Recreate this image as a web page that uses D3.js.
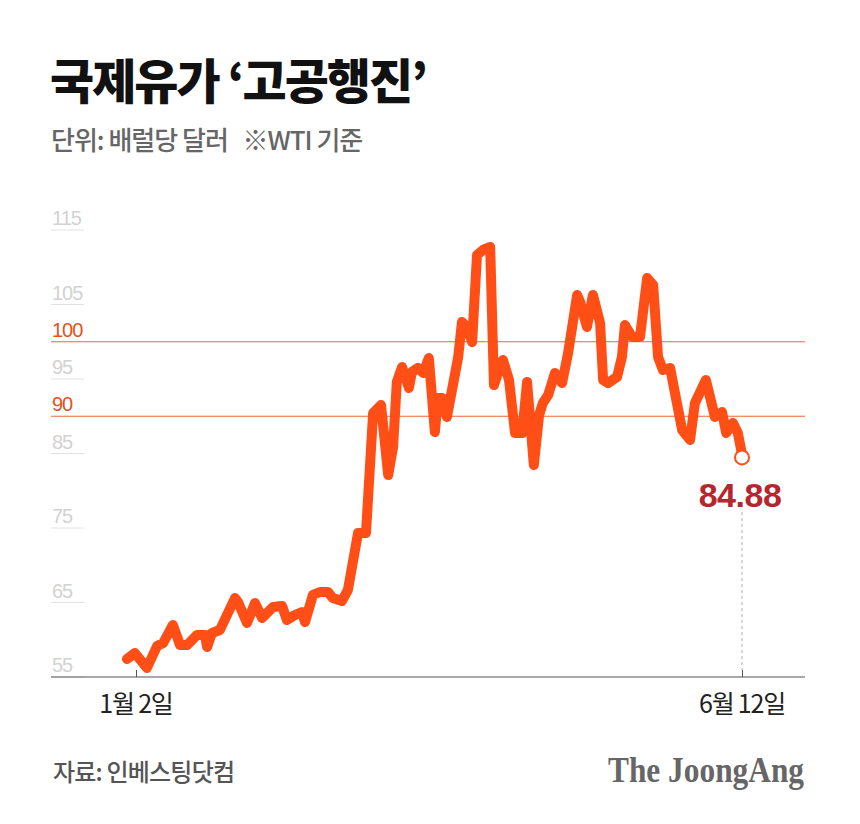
<!DOCTYPE html>
<html><head><meta charset="utf-8">
<script src="https://cdn.jsdelivr.net/npm/d3@7"></script>
<style>
html,body{margin:0;padding:0;background:#fff;}
svg{display:block;}
</style></head>
<body>
<svg id="chart" width="860" height="824"></svg>
<script>
// Days since Jan 2 (x) and WTI price in $/bbl (y)
const days = [-2.4,-0.3,2.9,5.6,7.2,9.8,11.7,13.6,16.2,18.3,18.9,20.2,22.3,26.3,27.1,29.5,31.6,33.5,36.4,38.8,40.1,42.2,44.1,44.9,47.0,48.9,51.0,52.3,54.7,56.3,59.0,61.1,63.0,65.1,67.0,68.3,69.3,70.7,72.5,73.3,74.9,76.3,77.8,79.4,80.2,81.3,82.6,85.6,86.6,87.9,89.3,90.6,92.2,94.1,95.1,96.2,97.5,99.1,100.7,102.6,103.9,105.7,107.1,108.1,109.5,111.3,113.2,114.8,117.2,118.0,119.8,121.4,123.3,124.1,125.4,127.8,129.1,129.9,131.8,133.9,135.8,137.4,138.7,140.0,141.9,145.1,147.2,148.5,151.4,153.8,155.7,156.8,158.6,159.9,161];
const prices = [57.42,58.22,56.21,59.16,59.56,61.98,59.30,59.30,60.64,60.64,59.03,60.91,61.31,65.60,65.07,62.25,64.93,62.92,64.40,64.53,62.65,63.32,63.72,62.38,66.01,66.41,66.41,65.60,65.20,66.68,74.33,74.33,90.44,91.51,82.11,85.87,94.60,96.61,93.79,95.94,96.48,95.81,97.82,87.89,92.45,92.45,89.90,97.95,102.65,101.98,99.97,111.64,112.32,112.72,94.19,95.81,97.55,94.87,87.75,87.75,94.60,83.46,90.17,91.78,92.85,95.81,94.46,98.49,106.28,105.34,101.98,106.28,102.52,94.87,94.46,95.27,97.95,102.25,100.64,100.64,108.56,107.62,97.95,96.21,96.48,88.15,86.81,91.78,94.87,89.90,90.57,87.75,89.09,87.75,84.88];
const yTicks = [55,65,75,85,95,105,115];
const refLines = [90,100];
const xTickDays = [0,161];
const xTickLabels = ["1월 2일","6월 12일"];
const title = "국제유가 ‘고공행진’";
const subtitle = "단위: 배럴당 달러   ※WTI 기준";
const source = "자료: 인베스팅닷컴";
const brand = "The JoongAng";
const lastLabel = "84.88";

const svg = d3.select("#chart");
const left = 51, right = 805, axisY = 677;
const x = d3.scaleLinear().domain([0,161]).range([136,742]);
const y = d3.scaleLinear().domain([55,115]).range([axisY,230]);

const KR = "'Noto Sans CJK KR','Noto Sans',sans-serif";
const LAT = "'Liberation Sans',Arial,sans-serif";

// Title & subtitle
svg.append("text").attr("x",50).attr("y",99).text(title)
  .attr("font-family",KR).attr("font-weight",900).attr("font-size",48)
  .attr("letter-spacing",-2).attr("fill","#111");
svg.append("text").attr("x",51).attr("y",150).text(subtitle)
  .attr("font-family",KR).attr("font-weight",500).attr("font-size",26)
  .attr("letter-spacing",-1).attr("fill","#666").attr("xml:space","preserve");

// y tick labels with short underlines
const g = svg.append("g");
yTicks.forEach(t => {
  g.append("line").attr("x1",left).attr("x2",84).attr("y1",y(t)).attr("y2",y(t))
    .attr("stroke","#e2e2e2").attr("stroke-width",1);
  g.append("text").attr("x",52).attr("y",y(t)-5).text(t)
    .attr("font-family",LAT).attr("font-size",20).attr("fill","#d2d2d2").attr("letter-spacing",-1);
});
refLines.forEach(t => {
  g.append("line").attr("x1",left).attr("x2",right).attr("y1",y(t)).attr("y2",y(t))
    .attr("stroke","#e8693c").attr("stroke-width",1.2);
  g.append("text").attr("x",52).attr("y",y(t)-5).text(t)
    .attr("font-family",LAT).attr("font-size",20).attr("fill","#e0541e").attr("letter-spacing",-1);
});

// x axis
const xAxis = d3.axisBottom(x).tickValues(xTickDays).tickSize(-7).tickFormat(() => "");
const ax = svg.append("g").attr("transform",`translate(0,${axisY})`).call(xAxis);
ax.select(".domain").remove();
ax.selectAll(".tick line").attr("stroke","#555");
svg.append("line").attr("x1",left).attr("x2",right).attr("y1",axisY).attr("y2",axisY)
  .attr("stroke","#555").attr("stroke-width",1.2);
xTickDays.forEach((d,i) => {
  svg.append("text").attr("x",x(d)).attr("y",713).attr("text-anchor","middle").text(xTickLabels[i])
    .attr("font-family",KR).attr("font-size",25).attr("letter-spacing",-1.2).attr("fill","#222");
});

// dashed drop line for last point
const lastI = prices.length-1;
svg.append("line").attr("x1",x(days[lastI])).attr("x2",x(days[lastI]))
  .attr("y1",512).attr("y2",axisY-7).attr("stroke","#aaa").attr("stroke-width",1).attr("stroke-dasharray","3,3");

// line
const line = d3.line().x((d,i)=>x(days[i])).y(d=>y(d));
svg.append("path").datum(prices).attr("d",line).attr("fill","none")
  .attr("stroke","#ff4f17").attr("stroke-width",10).attr("stroke-linejoin","round").attr("stroke-linecap","round");

svg.append("circle").attr("cx",x(days[lastI])).attr("cy",y(prices[lastI])+3).attr("r",7)
  .attr("fill","#fff").attr("stroke","#ff4f17").attr("stroke-width",2);
svg.append("text").attr("x",x(days[lastI])-2).attr("y",507).attr("text-anchor","middle").text(lastLabel)
  .attr("font-family",LAT).attr("font-weight",700).attr("font-size",34).attr("letter-spacing",-0.5).attr("fill","#b5262e");

// footer
svg.append("text").attr("x",53).attr("y",781).text(source)
  .attr("font-family",KR).attr("font-weight",500).attr("font-size",24).attr("letter-spacing",-0.8).attr("fill","#555");
svg.append("text").attr("x",804).attr("y",782).attr("text-anchor","end").text(brand)
  .attr("font-family","'Liberation Serif','DejaVu Serif',serif").attr("font-weight",700).attr("font-size",35)
  .attr("textLength",196).attr("lengthAdjust","spacingAndGlyphs").attr("fill","#666");
</script>
</body></html>
